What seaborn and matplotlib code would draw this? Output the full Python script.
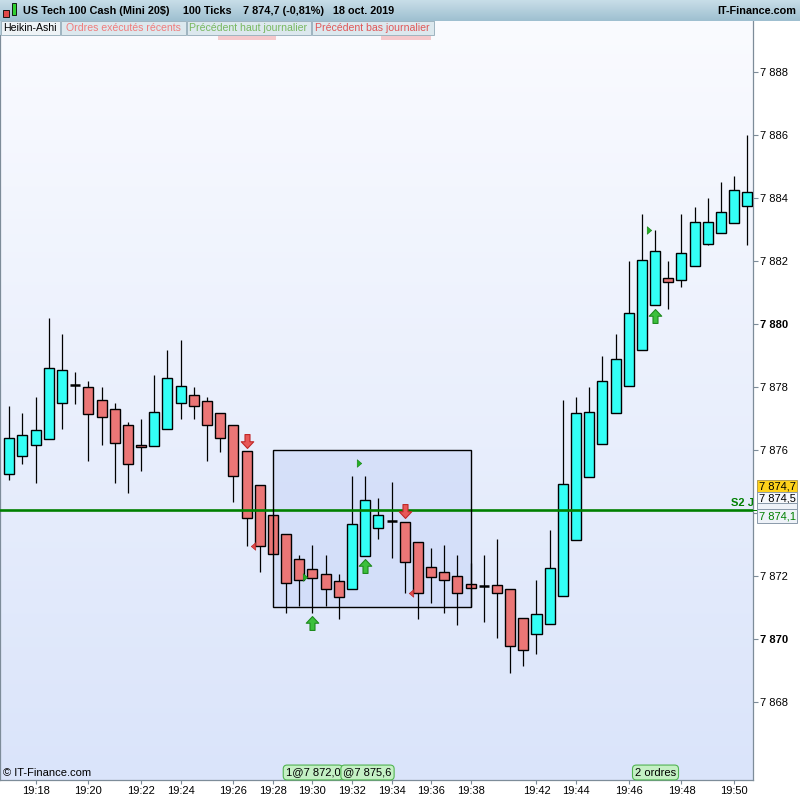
import numpy as np
import pandas as pd
import matplotlib
matplotlib.use("Agg")
import matplotlib.pyplot as plt
import seaborn as sns
from matplotlib.path import Path
from matplotlib.patches import Rectangle
import matplotlib.colors as mcolors

sns.set_theme(style="white")
plt.rcParams['font.family'] = ['Liberation Sans', 'DejaVu Sans']

# ---------------- data (Heikin-Ashi, 100-tick bars) ----------------
opens = [7875.25, 7875.80, 7876.15, 7876.35, 7877.50, 7878.05, 7878.00, 7877.60, 7877.30, 7876.80,
         7876.15, 7876.12, 7876.66, 7877.48, 7877.74, 7877.55, 7877.17, 7876.78, 7875.96, 7874.88,
         7873.93, 7873.32, 7872.53, 7872.21, 7872.05, 7871.83, 7871.58, 7872.63, 7873.51, 7873.73,
         7873.70, 7873.07, 7872.28, 7872.12, 7871.99, 7871.74, 7871.68, 7871.70, 7871.58, 7870.66,
         7870.15, 7870.48, 7871.35, 7873.13, 7875.13, 7876.18, 7877.17, 7878.02, 7879.17, 7880.59,
         7881.45, 7881.39, 7881.83, 7882.53, 7882.88, 7883.20, 7883.74]
closes = [7876.37, 7876.47, 7876.63, 7878.59, 7878.53, 7878.05, 7877.15, 7877.04, 7876.21, 7875.55,
          7876.08, 7877.20, 7878.28, 7878.02, 7877.39, 7876.78, 7876.37, 7875.17, 7873.83, 7872.96,
          7872.69, 7871.77, 7871.86, 7871.93, 7871.58, 7871.32, 7873.64, 7874.40, 7873.93, 7873.73,
          7872.43, 7871.45, 7871.96, 7871.86, 7871.45, 7871.61, 7871.68, 7871.45, 7869.77, 7869.64,
          7870.78, 7872.24, 7874.91, 7877.17, 7877.20, 7878.18, 7878.88, 7880.34, 7882.02, 7882.31,
          7881.32, 7882.24, 7883.23, 7883.23, 7883.55, 7884.24, 7884.18]
highs = [7877.40, 7877.17, 7877.68, 7880.19, 7879.68, 7878.48, 7878.19, 7877.99, 7877.49, 7876.89,
         7876.98, 7878.38, 7879.17, 7879.49, 7877.99, 7877.67, 7877.17, 7876.78, 7875.96, 7874.88,
         7873.93, 7873.32, 7872.66, 7872.97, 7872.66, 7872.05, 7875.17, 7875.17, 7874.47, 7874.97,
         7873.70, 7873.07, 7872.88, 7872.97, 7872.66, 7872.40, 7872.67, 7873.17, 7871.58, 7870.66,
         7871.87, 7873.46, 7877.59, 7877.68, 7878.00, 7878.98, 7879.68, 7882.00, 7883.49, 7882.98,
         7882.00, 7883.48, 7883.70, 7883.99, 7884.50, 7884.69, 7885.99]
lows = [7875.05, 7875.56, 7874.96, 7876.37, 7876.68, 7877.47, 7875.66, 7876.17, 7874.96, 7874.64,
        7875.34, 7876.12, 7876.66, 7876.97, 7876.97, 7875.66, 7875.95, 7874.36, 7872.96, 7872.14,
        7872.69, 7870.83, 7871.06, 7870.83, 7871.06, 7870.64, 7871.58, 7872.63, 7873.17, 7872.56,
        7871.45, 7870.64, 7871.15, 7870.83, 7870.45, 7871.00, 7870.55, 7870.04, 7868.93, 7869.15,
        7869.53, 7870.48, 7871.35, 7873.13, 7875.13, 7876.18, 7877.17, 7878.02, 7879.17, 7880.59,
        7880.49, 7881.18, 7881.83, 7882.50, 7882.88, 7883.20, 7882.50]

tick_idx = [2, 6, 10, 13, 17, 20, 23, 26, 29, 32, 35, 40, 43, 47, 51, 55]
tick_lbl = ["19:18", "19:20", "19:22", "19:24", "19:26", "19:28", "19:30", "19:32", "19:34",
            "19:36", "19:38", "19:42", "19:44", "19:46", "19:48", "19:50"]
price_ticks = [7868, 7870, 7872, 7874, 7876, 7878, 7880, 7882, 7884, 7886, 7888]
hidden_price_labels = [7874]   # covered by the price flags in the original

s2_level = 7874.1
box_x = [20, 35]
box_y = [7871.0, 7876.0]

up_arrow_x = [23.0, 27.0, 49.0]
up_arrow_y = [7870.5, 7872.3, 7880.25]
down_arrow_x = [18.0, 30.0]
down_arrow_y = [7876.3, 7874.05]
right_tri_x = [22.4, 26.55, 48.55]
right_tri_y = [7871.97, 7875.6, 7882.98]
left_tri_x = [18.5, 30.5]
left_tri_y = [7872.95, 7871.45]

df = pd.DataFrame({"o": opens, "h": highs, "l": lows, "c": closes})
df["i"] = np.arange(len(df))

# ---------------- figure ----------------
W, H = 800, 800
fig = plt.figure(figsize=(8, 8), dpi=100)
fig.patch.set_facecolor("white")
fx = lambda x: x / W
fy = lambda y: 1 - y / H

ax_right_px = 753.3
ax_top_px = 20.7
ax_bot_px = 780
ax = fig.add_axes([0, fy(ax_bot_px), fx(ax_right_px), (ax_bot_px - ax_top_px) / H])

x0 = -0.706
x1 = 56.45
y_lo = 7865.52
y_hi = 7889.63

# background gradient (light at top, blue at bottom)
grad = np.linspace(0, 1, 256).reshape(-1, 1)
cmap_bg = mcolors.LinearSegmentedColormap.from_list("bg", ["#FAFBFF", "#DAE4FA"])
ax.imshow(grad, extent=[x0, x1, y_lo, y_hi], origin="upper", aspect="auto", cmap=cmap_bg,
          zorder=0, interpolation="bilinear")
ax.set_xlim(x0, x1)
ax.set_ylim(y_lo, y_hi)

# selection rectangle
ax.add_patch(Rectangle((box_x[0], box_y[0]), box_x[1] - box_x[0], box_y[1] - box_y[0],
                       facecolor="#C8D6F8", alpha=0.55, edgecolor="none", zorder=1))
ax.add_patch(Rectangle((box_x[0], box_y[0]), box_x[1] - box_x[0], box_y[1] - box_y[0],
                       facecolor="none", edgecolor="black", lw=1.0, zorder=5))

# S2 level line
ax.axhline(s2_level, color="#008000", lw=1.9, zorder=4)
ax.text(54.76, s2_level + 0.07, "S2 J", color="#008000", fontsize=8, fontweight="bold",
        ha="left", va="bottom", clip_on=True, zorder=6)

# candles
bw = 0.76
ax.vlines(df["i"], df["l"], df["h"], color="black", lw=0.9, zorder=2)
up = df[df["c"] > df["o"]]
dn = df[df["c"] < df["o"]]
dj = df[df["c"] == df["o"]]
ax.bar(up["i"], up["c"] - up["o"], bottom=up["o"], width=bw, color="#33FFF6",
       edgecolor="black", lw=1.0, zorder=3)
ax.bar(dn["i"], dn["o"] - dn["c"], bottom=dn["c"], width=bw, color="#EB7676",
       edgecolor="black", lw=1.0, zorder=3)
ax.hlines(dj["o"], dj["i"] - bw / 2, dj["i"] + bw / 2, color="black", lw=1.8, zorder=3)

# markers
up_path = Path([(-0.18, -0.5), (0.18, -0.5), (0.18, 0.02), (0.45, 0.02), (0, 0.5),
                (-0.45, 0.02), (-0.18, 0.02), (-0.18, -0.5)], closed=True)
dn_path = Path([(x, -y) for x, y in up_path.vertices], closed=True)
rt_path = Path([(-0.3, -0.5), (0.3, 0), (-0.3, 0.5), (-0.3, -0.5)], closed=True)
lt_path = Path([(0.3, -0.5), (-0.3, 0), (0.3, 0.5), (0.3, -0.5)], closed=True)

sns.scatterplot(x=up_arrow_x, y=up_arrow_y, marker=up_path, s=100, color="#3CC03C",
                edgecolor="#1E8A1E", linewidth=0.8, ax=ax, zorder=7, legend=False)
sns.scatterplot(x=down_arrow_x, y=down_arrow_y, marker=dn_path, s=100, color="#E85858",
                edgecolor="#C02828", linewidth=0.8, ax=ax, zorder=7, legend=False)
sns.scatterplot(x=right_tri_x, y=right_tri_y, marker=rt_path, s=30, color="#22B022",
                edgecolor="#178017", linewidth=0.4, ax=ax, zorder=7, legend=False)
sns.scatterplot(x=left_tri_x, y=left_tri_y, marker=lt_path, s=30, color="#E04848",
                edgecolor="#B02020", linewidth=0.4, ax=ax, zorder=7, legend=False)

# axes styling
ax.spines["top"].set_visible(False)
for side in ["right", "bottom", "left"]:
    ax.spines[side].set_visible(True)
    ax.spines[side].set_color("#7D8C99")
    ax.spines[side].set_linewidth(0.9)

ax.yaxis.tick_right()
ax.set_yticks(price_ticks)
ax.set_yticklabels(["" if v in hidden_price_labels else f"{v:,}".replace(",", " ")
                    for v in price_ticks])
for v, t in zip(price_ticks, ax.get_yticklabels()):
    if v % 10 == 0:
        t.set_fontweight("bold")
ax.tick_params(axis="y", which="major", direction="out", length=3.5, width=0.8,
               color="#7D8C99", labelsize=8, pad=1.0, right=True, left=False,
               labelright=True, labelleft=False, labelcolor="black")
ax.set_xticks(tick_idx)
ax.set_xticklabels(tick_lbl)
ax.tick_params(axis="x", which="major", direction="out", length=3, width=0.8,
               color="#7D8C99", labelsize=8, pad=1.0, bottom=True, labelcolor="black")
ax.grid(False)
ax.set_xlabel("")
ax.set_ylabel("")

# ---------------- header ----------------
hax = fig.add_axes([0, fy(ax_top_px), 1, ax_top_px / H], zorder=2)
hcm = mcolors.LinearSegmentedColormap.from_list("hd", ["#C8DEE8", "#9EBFD0"])
hax.imshow(grad, extent=[0, 1, 0, 1], origin="upper", aspect="auto", cmap=hcm,
           interpolation="bilinear")
hax.set_xlim(0, 1)
hax.set_ylim(0, 1)
hax.axis("off")

hdr_kw = dict(fontsize=7.8, fontweight="bold", color="black", va="center", zorder=10)
fig.text(fx(23), fy(10.5), "US Tech 100 Cash (Mini 20$)", ha="left", **hdr_kw)
fig.text(fx(183), fy(10.5), "100 Ticks", ha="left", **hdr_kw)
fig.text(fx(243), fy(10.5), "7 874,7 (-0,81%)", ha="left", **hdr_kw)
fig.text(fx(333), fy(10.5), "18 oct. 2019", ha="left", **hdr_kw)
fig.text(fx(796), fy(10.5), "IT-Finance.com", ha="right", **hdr_kw)


def fig_rect(x, y, w, h, **kw):
    r = Rectangle((fx(x), fy(y + h)), w / W, h / H, transform=fig.transFigure, **kw)
    fig.add_artist(r)
    return r


# header icon
fig_rect(5.5, 7, 0.8, 12, facecolor="black", edgecolor="none", zorder=11)
fig_rect(3.3, 10, 5.4, 6.7, facecolor="#E04848", edgecolor="black", lw=0.6, zorder=12)
fig_rect(13.5, 1.5, 0.8, 16, facecolor="black", edgecolor="none", zorder=11)
fig_rect(11.7, 3.3, 4.5, 11.7, facecolor="#30D030", edgecolor="black", lw=0.6, zorder=12)

# tabs
tabs = [("Heikin-Ashi", 0, 60, "black", "#EEF3F6"),
        ("Ordres exécutés récents", 60, 186, "#F07C7C", "#DCE8EE"),
        ("Précédent haut journalier", 186, 311, "#78B860", "#DCE8EE"),
        ("Précédent bas journalier", 311, 434, "#E05858", "#DCE8EE")]
fig_rect(0, 20.7, 435, 14.3, facecolor="#B8D0DC", edgecolor="none", zorder=9)
fig_rect(218, 34, 58, 6, facecolor="#F5C9CC", edgecolor="none", zorder=8)
fig_rect(381, 34, 50, 6, facecolor="#F5C9CC", edgecolor="none", zorder=8)
for lbl, xa, xb, tc, bg in tabs:
    fig_rect(xa + 0.5, 21.2, xb - xa - 1, 13.3, facecolor=bg, edgecolor="#9FB4C0", lw=0.7, zorder=10)
    fig.text(fx((xa + xb) / 2), fy(28), lbl, ha="center", va="center", fontsize=7.6,
             color=tc, zorder=11)

# right axis price flags (stacked boxes)
flags = [(480, 492, "7 874,7", "#FFD21A", "black", "#B8A050"),
         (492, 503, "7 874,5", "#F6F8FB", "black", "#8A9AAA"),
         (503, 509, None, "#EEF2F8", "#008000", "#8A9AAA"),
         (509, 523, "7 874,1", "#EEF2F8", "#008000", "#8A9AAA")]
for k, (ya, yb, txt, fc, tc, ec) in enumerate(flags):
    fig_rect(757, ya, 40, yb - ya, facecolor=fc, edgecolor=ec, lw=0.7, zorder=12 + k)
    if txt:
        fig.text(fx(759), fy((ya + yb) / 2 + 0.5), txt, ha="left", va="center", fontsize=8,
                 color=tc, zorder=12 + k)
fig_rect(753, 509.5, 4, 1.2, facecolor="#008000", edgecolor="none", zorder=12)

# bottom overlays
fig.text(fx(3), fy(773.5), "© IT-Finance.com", ha="left", va="center", fontsize=8,
         color="black", zorder=12)
box_kw = dict(boxstyle="round,pad=0.22,rounding_size=0.35", fc="#C4F0C4", ec="#52B452", lw=0.8)
fig.text(fx(313), fy(772.5), "1@7 872,0", ha="center", va="center", fontsize=8,
         color="black", zorder=12, bbox=box_kw)
fig.text(fx(367.5), fy(772.5), "@7 875,6", ha="center", va="center", fontsize=8,
         color="black", zorder=12, bbox=box_kw)
fig.text(fx(655.5), fy(772.5), "2 ordres", ha="center", va="center", fontsize=8,
         color="black", zorder=12, bbox=box_kw)

fig.savefig("out.png", dpi=100)
